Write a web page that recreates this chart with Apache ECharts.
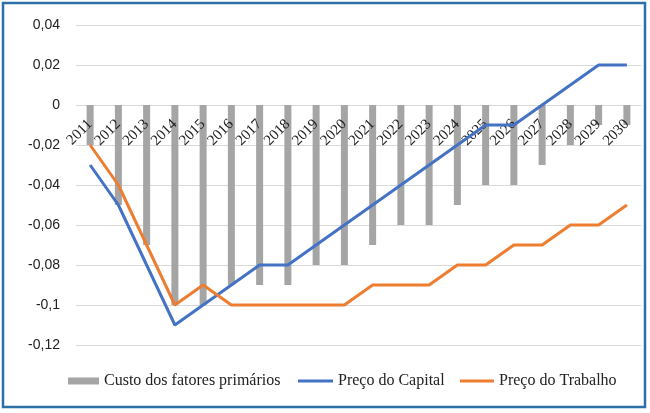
<!DOCTYPE html>
<html><head><meta charset="utf-8">
<script src="https://cdn.jsdelivr.net/npm/echarts@6/dist/echarts.min.js"></script>
<style>html,body{margin:0;padding:0;background:#fff}#c{width:650px;height:413px}</style>
</head><body><div id="c"></div>
<script>
const years = ['2011','2012','2013','2014','2015','2016','2017','2018','2019','2020','2021','2022','2023','2024','2025','2026','2027','2028','2029','2030'];
const custoFatores = [-0.02,-0.05,-0.07,-0.10,-0.10,-0.09,-0.09,-0.09,-0.08,-0.08,-0.07,-0.06,-0.06,-0.05,-0.04,-0.04,-0.03,-0.02,-0.01,-0.01];
const precoCapital = [-0.03,-0.05,-0.08,-0.11,-0.10,-0.09,-0.08,-0.08,-0.07,-0.06,-0.05,-0.04,-0.03,-0.02,-0.01,-0.01,0,0.01,0.02,0.02];
const precoTrabalho = [-0.02,-0.04,-0.07,-0.10,-0.09,-0.10,-0.10,-0.10,-0.10,-0.10,-0.09,-0.09,-0.09,-0.08,-0.08,-0.07,-0.07,-0.06,-0.06,-0.05];

const chart = echarts.init(document.getElementById('c'));
const serif = '"Liberation Serif", "Times New Roman", serif';
const legendText = {fontFamily: serif, fontSize: 16, color:'#222'};
chart.setOption({
  animation: false,
  graphic: [{type:'rect', shape:{x:3,y:3,width:642,height:404}, style:{fill:'none', stroke:'#2f6fa7', lineWidth:2.5}, silent:true, z:100}],
  grid: {left:76, right:9, top:25, bottom:68},
  legend: [
    {left: 68, top: 373, padding: 0, itemWidth: 31, itemHeight: 7, icon:'rect', textStyle: legendText,
     data: ['Custo dos fatores primários']},
    {left: 298, top: 373, padding: 0, itemWidth: 35, itemHeight: 3, icon:'rect', textStyle: legendText,
     data: ['Preço do Capital']},
    {left: 460, top: 373, padding: 0, itemWidth: 34, itemHeight: 3, icon:'rect', textStyle: legendText,
     data: ['Preço do Trabalho']}
  ],
  xAxis: {
    type:'category', data: years, boundaryGap:true, z: 10,
    offset: -241,
    axisLine:{show:false, onZero:false},
    axisTick:{show:false},
    axisLabel:{rotate:45, margin:18, interval:0, fontFamily:serif, fontSize:15, color:'#222'}
  },
  yAxis: {
    type:'value', min:-0.12, max:0.04, interval:0.02,
    axisLine:{show:false}, axisTick:{show:false},
    splitLine:{lineStyle:{color:'#d9d9d9'}},
    axisLabel:{margin:16, fontFamily:'"Liberation Sans", Arial, sans-serif', fontSize:14, color:'#222',
      formatter: v => String(Number(v.toFixed(2))).replace('.', ',')}
  },
  series: [
    {name:'Custo dos fatores primários', type:'bar', data: custoFatores, barWidth:7, itemStyle:{color:'#a5a5a5'}},
    {name:'Preço do Capital', type:'line', data: precoCapital, symbol:'none', z:20, lineStyle:{color:'#4472c4', width:3}, itemStyle:{color:'#4472c4'}},
    {name:'Preço do Trabalho', type:'line', data: precoTrabalho, symbol:'none', z:20, lineStyle:{color:'#ed7d31', width:3}, itemStyle:{color:'#ed7d31'}}
  ]
});
</script></body></html>
